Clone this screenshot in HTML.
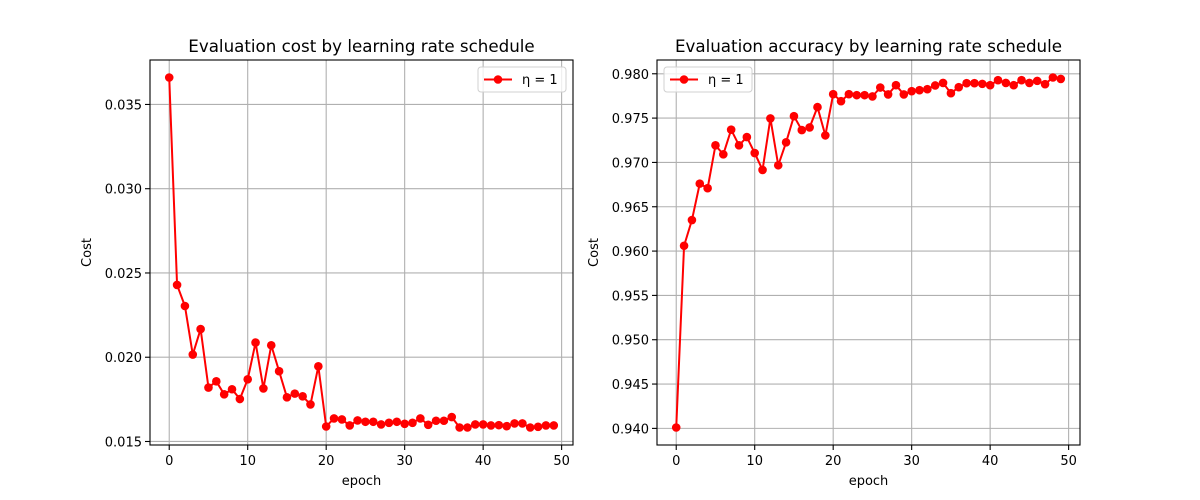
<!DOCTYPE html>
<html><head><meta charset="utf-8"><style>
body{margin:0;background:#fff;}
svg{display:block;font-family:"DejaVu Sans","Liberation Sans",sans-serif;}
</style></head><body>
<svg id="fig" width="1200" height="500" viewBox="0 0 1200 500"></svg>
<script>
const epochs = Array.from({length:50},(_,i)=>i);
const costValues = [0.0366,0.02429,0.02304,0.02016,0.02167,0.01820,0.01857,0.01780,0.01810,0.01752,
0.01869,0.02087,0.01815,0.02071,0.01917,0.01762,0.01784,0.01768,0.01720,0.01946,
0.01589,0.01637,0.01631,0.01595,0.01625,0.01617,0.01617,0.01601,0.01611,0.01617,
0.01605,0.01611,0.01637,0.01599,0.01623,0.01623,0.01645,0.01583,0.01583,0.01601,
0.01601,0.01595,0.01597,0.01591,0.01607,0.01607,0.01583,0.01587,0.01595,0.01595];
const accValues = [0.9401,0.9606,0.9635,0.96761,0.96709,0.97193,0.97091,0.97369,0.97193,0.97286,
0.97106,0.96915,0.97496,0.96968,0.97227,0.97522,0.97365,0.97395,0.97624,0.97305,
0.97770,0.97691,0.97770,0.97759,0.97759,0.97744,0.97845,0.97767,0.97871,0.97767,
0.97804,0.97815,0.97826,0.97868,0.97897,0.97781,0.97849,0.97894,0.97894,0.97886,
0.97871,0.97928,0.97897,0.97871,0.97928,0.97897,0.97920,0.97883,0.97958,0.97942];
const xTicks = [0,10,20,30,40,50];
const costTicks = [0.015,0.020,0.025,0.030,0.035];
const costTickLabels = ["0.015","0.020","0.025","0.030","0.035"];
const accTicks = [0.940,0.945,0.950,0.955,0.960,0.965,0.970,0.975,0.980];
const accTickLabels = ["0.940","0.945","0.950","0.955","0.960","0.965","0.970","0.975","0.980"];

const NS="http://www.w3.org/2000/svg";
const fig=document.getElementById('fig');
function mk(tag,attrs,parent){const e=document.createElementNS(NS,tag);for(const k in attrs)e.setAttribute(k,attrs[k]);(parent||fig).appendChild(e);return e;}

function drawPanel(opt){
  const {x0,x1,y0,y1,vals,yTicks,yLabels,title,legendLeft,prefix}=opt;
  const g=mk('g',{});
  
  
  const xmin=0,xmax=epochs.length-1,xm=(xmax-xmin)*0.05;
  const ymin=Math.min(...vals),ymax=Math.max(...vals),ym=(ymax-ymin)*0.05;
  const X=v=>x0+(v-(xmin-xm))/((xmax+xm)-(xmin-xm))*(x1-x0);
  const Y=v=>y1-(v-(ymin-ym))/((ymax+ym)-(ymin-ym))*(y1-y0);
  xTicks.forEach(t=>{const px=X(t);
    const l=mk('line',{x1:px,x2:px,y1:y0,y2:y1,stroke:'#b0b0b0','stroke-width':1.1},g);
    
    
    mk('line',{x1:px,x2:px,y1:y1,y2:y1+5,stroke:'#000','stroke-width':1.1},g);
    const tx=mk('text',{x:px,y:y1+20,'text-anchor':'middle','font-size':13,fill:'#000'},g);
    tx.textContent=t;
    
    
  });
  yTicks.forEach((t,i)=>{const py=Y(t);
    const l=mk('line',{x1:x0,x2:x1,y1:py,y2:py,stroke:'#b0b0b0','stroke-width':1.1},g);
    
    
    mk('line',{x1:x0-5,x2:x0,y1:py,y2:py,stroke:'#000','stroke-width':1.1},g);
    const tx=mk('text',{x:x0-8,y:py+5,'text-anchor':'end','font-size':13,fill:'#000'},g);
    tx.textContent=yLabels[i];
    
    
  });
  const pts=vals.map((v,i)=>X(epochs[i])+','+Y(v)).join(' ');
  const pl=mk('polyline',{points:pts,fill:'none',stroke:'#ff0000','stroke-width':2},g);
  
  
  vals.forEach((v,i)=>{
    const c=mk('circle',{cx:X(epochs[i]),cy:Y(v),r:4.3,fill:'#ff0000'},g);
    
    
  });
  const fr=mk('rect',{x:x0,y:y0,width:x1-x0,height:y1-y0,fill:'none',stroke:'#000','stroke-width':1.1},g);
  
  
  const tt=mk('text',{x:(x0+x1)/2,y:y0-8,'text-anchor':'middle','font-size':16.7,fill:'#000'},g);
  tt.textContent=title;
  
  
  const xl=mk('text',{x:(x0+x1)/2,y:y1+40,'text-anchor':'middle','font-size':13,fill:'#000'},g);
  xl.textContent='epoch';
  
  
  const yl=mk('text',{x:0,y:0,'text-anchor':'middle','font-size':13,fill:'#000',transform:`translate(${x0-59},${(y0+y1)/2}) rotate(-90)`},g);
  yl.textContent='Cost';
  
  
  const lx=legendLeft?x0+7:x1-95, ly=y0+7;
  const lg=mk('g',{},g);
  
  
  mk('rect',{x:lx,y:ly,width:88,height:25,rx:3,fill:'#fff','fill-opacity':0.8,stroke:'#d0d0d0','stroke-width':1},lg);
  mk('line',{x1:lx+6,x2:lx+34,y1:ly+12.5,y2:ly+12.5,stroke:'#ff0000','stroke-width':2},lg);
  mk('circle',{cx:lx+20,cy:ly+12.5,r:4.3,fill:'#ff0000'},lg);
  const lt=mk('text',{x:lx+44,y:ly+17,'font-size':13,fill:'#000'},lg);
  lt.textContent='η = 1';
  
  
}
drawPanel({x0:150,x1:573,y0:60,y1:445,vals:costValues,yTicks:costTicks,yLabels:costTickLabels,title:'Evaluation cost by learning rate schedule',legendLeft:false,prefix:'cost'});
drawPanel({x0:657,x1:1080,y0:60,y1:445,vals:accValues,yTicks:accTicks,yLabels:accTickLabels,title:'Evaluation accuracy by learning rate schedule',legendLeft:true,prefix:'accuracy'});
</script>
</body></html>
